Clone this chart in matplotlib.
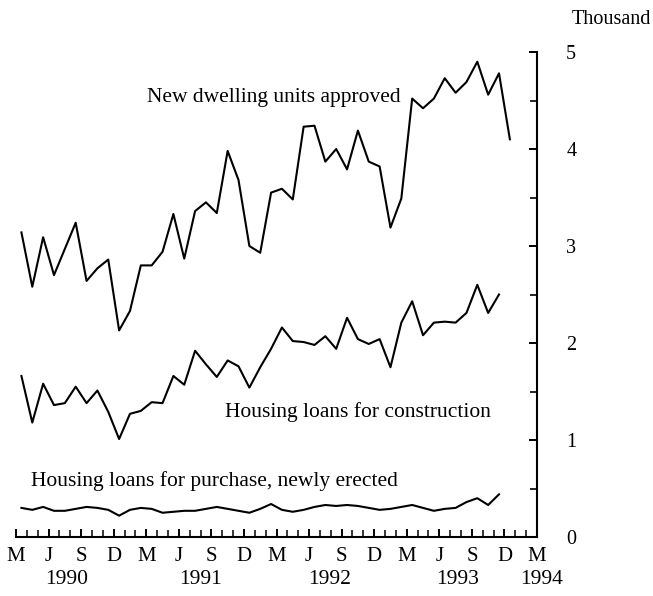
import numpy as np
import matplotlib
matplotlib.use('Agg')
import matplotlib.pyplot as plt
import matplotlib.transforms as mtransforms

# monthly values, thousand, starting March 1990
dwellings = [3.14, 2.58, 3.09, 2.70, 2.97, 3.24, 2.64, 2.77, 2.86, 2.13,
             2.33, 2.80, 2.80, 2.94, 3.33, 2.87, 3.36, 3.45, 3.34, 3.98,
             3.68, 3.00, 2.93, 3.55, 3.59, 3.48, 4.23, 4.24, 3.87, 4.00,
             3.79, 4.19, 3.87, 3.82, 3.19, 3.49, 4.52, 4.42, 4.52, 4.73,
             4.58, 4.69, 4.90, 4.56, 4.78, 4.10]
construction = [1.66, 1.18, 1.58, 1.36, 1.38, 1.55, 1.38, 1.51, 1.29, 1.01,
                1.27, 1.30, 1.39, 1.38, 1.66, 1.57, 1.92, 1.78, 1.65, 1.82,
                1.76, 1.54, 1.75, 1.94, 2.16, 2.02, 2.01, 1.98, 2.07, 1.94,
                2.26, 2.04, 1.99, 2.04, 1.75, 2.21, 2.43, 2.08, 2.21, 2.22,
                2.21, 2.31, 2.60, 2.31, 2.50]
purchase = [0.30, 0.28, 0.31, 0.27, 0.27, 0.29, 0.31, 0.30, 0.28, 0.22,
            0.28, 0.30, 0.29, 0.25, 0.26, 0.27, 0.27, 0.29, 0.31, 0.29,
            0.27, 0.25, 0.29, 0.34, 0.28, 0.26, 0.28, 0.31, 0.33, 0.32,
            0.33, 0.32, 0.30, 0.28, 0.29, 0.31, 0.33, 0.30, 0.27, 0.29,
            0.30, 0.36, 0.40, 0.33, 0.44]

month_letters = ['M', 'J', 'S', 'D']
years = ['1990', '1991', '1992', '1993', '1994']
year_pos = [4.7, 17.0, 28.9, 40.7, 48.4]

serif = ['Liberation Serif', 'DejaVu Serif']
plt.rcParams['font.family'] = serif

fig = plt.figure(figsize=(6.53, 5.96), dpi=100)
ax = fig.add_axes([16 / 653, 59 / 596, 521 / 653, 485 / 596])

lw = 1.5
ax.plot(np.arange(len(dwellings)) + 0.5, dwellings, color='black', lw=lw)
ax.plot(np.arange(len(construction)) + 0.5, construction, color='black', lw=lw)
ax.plot(np.arange(len(purchase)) + 0.5, purchase, color='black', lw=lw)

ax.set_xlim(0, 48)
ax.set_ylim(0, 5)

for s in ['top', 'left']:
    ax.spines[s].set_visible(False)
for s in ['right', 'bottom']:
    ax.spines[s].set_linewidth(1.5)

ax.yaxis.tick_right()
ax.set_yticks(np.arange(0, 6))
ax.set_yticklabels([str(v) for v in range(6)])
ax.set_yticks(np.arange(0.5, 5, 1), minor=True)
ax.tick_params(axis='y', which='major', direction='in', length=6, width=1.4,
               pad=21, labelsize=14.5)
ax.tick_params(axis='y', which='minor', direction='in', length=5, width=1.2)

ax.set_xticks(np.arange(0, 49, 3))
ax.set_xticklabels([month_letters[i % 4] for i in range(17)])
ax.set_xticks(np.arange(0, 49, 1), minor=True)
ax.tick_params(axis='x', which='major', direction='in', length=6, width=1.4,
               pad=7, labelsize=15)
ax.tick_params(axis='x', which='minor', direction='in', length=5, width=1.1)

trans = mtransforms.blended_transform_factory(ax.transData, fig.transFigure)
for yr, xp in zip(years, year_pos):
    ax.text(xp, 16 / 596, yr, transform=trans, ha='center', va='center',
            fontsize=15.5, clip_on=False)

ax.text(12.1, 4.53, 'New dwelling units approved', fontsize=15.5,
        va='center', ha='left')
ax.text(19.3, 1.29, 'Housing loans for construction', fontsize=15.5,
        va='center', ha='left')
ax.text(1.4, 0.58, 'Housing loans for purchase, newly erected', fontsize=15.5,
        va='center', ha='left')

fig.text(611 / 653, 1 - 20 / 596, 'Thousand', fontsize=14.5, ha='center',
         va='center')

fig.savefig('out.png', dpi=100)
